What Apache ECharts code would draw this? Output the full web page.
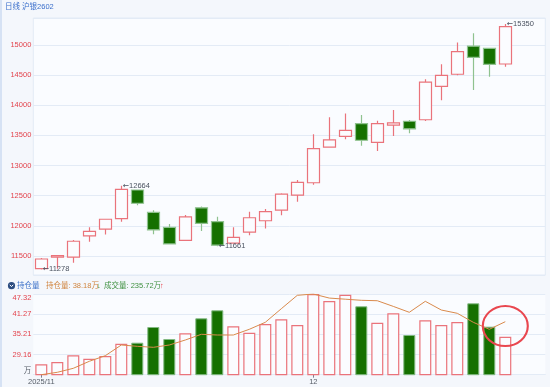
<!DOCTYPE html>
<html><head><meta charset="utf-8">
<script src="https://cdn.jsdelivr.net/npm/echarts@6/dist/echarts.min.js"></script>
<style>html,body{margin:0;padding:0;background:#f4f7fc}#c{width:550px;height:387px}</style>
</head><body><div id="c"></div>
<script>
// ---- data ----
const dates = ['2025-11-06','2025-11-07','2025-11-10','2025-11-11','2025-11-12','2025-11-13','2025-11-14',
  '2025-11-17','2025-11-18','2025-11-19','2025-11-20','2025-11-21','2025-11-24','2025-11-25','2025-11-26',
  '2025-11-27','2025-11-28','2025-12-01','2025-12-02','2025-12-03','2025-12-04','2025-12-05','2025-12-08',
  '2025-12-09','2025-12-10','2025-12-11','2025-12-12','2025-12-15','2025-12-16','2025-12-17'];
const opens  = [11290,11480,11480,11835,11945,12120,12595,12225,11975,11760,12300,12070,11715,11895,12085,
                12260,12510,12715,13305,13485,13695,13385,13670,13735,13760,14315,14515,14980,14945,14685];
const closes = [11450,11505,11745,11910,12110,12605,12375,11935,11700,12150,12040,11680,11810,12135,12235,
                12525,12720,13280,13425,13585,13420,13695,13710,13610,14385,14495,14890,14795,14680,15305];
const lows   = [11278,11290,11390,11735,11855,12070,12340,11860,11695,11755,11915,11661,11705,11845,11955,
                12175,12400,12680,13295,13435,13330,13240,13490,13535,13740,14085,14500,14255,14475,14640];
const highs  = [11465,11515,11765,11975,12115,12664,12600,12260,12030,12180,12320,12150,11975,12235,12280,
                12540,12760,13520,13800,13865,13840,13745,13920,13755,14430,14680,15040,15195,14955,15350];
const volumes = [26.23,26.92,28.93,27.91,28.72,32.41,32.71,37.42,33.82,35.53,40.03,42.43,37.63,35.71,38.32,
                 39.73,38.02,47.30,45.22,47.10,43.63,38.71,41.53,35.02,39.43,38.02,38.92,44.53,37.51,34.51];
const openInterest = [23.11,23.83,25.03,27.13,28.81,32.02,31.63,31.33,32.02,33.52,35.23,35.02,35.02,36.73,38.83,
                      42.90,46.93,47.32,46.10,45.76,45.43,45.30,43.60,41.83,45.13,42.52,41.53,38.83,36.73,39.01];
const volTickLabels = ['万','29.16','35.21','41.27','47.32'];
const xLabelMap = {'2025-11-06':'2025/11','2025-12-01':'12'};
const extremeMarks = [[0,'low'],[5,'high'],[11,'low'],[29,'high']];
const arrowLevel = 15000, arrowFrom = 23.4, arrowTo = 31.7;
const circleMark = [29, 37.7];
const emptySlots = ['',''];

// ---- chart ----
const xCats = dates.concat(emptySlots);
const candleData = dates.map((d,i)=>[opens[i],closes[i],lows[i],highs[i]]);
const volData = volumes.map((v,i)=>({value:v, itemStyle: closes[i]>=opens[i]
  ? {color:'#fbfcff',borderColor:'#ea737b',borderWidth:1.2}
  : {color:'#157000',borderColor:'#82b982',borderWidth:1}}));
const F = 'Liberation Sans, "Noto Sans CJK SC", sans-serif';
const showLbl = (idx, val) => xLabelMap[val] !== undefined;
const volMin = 23.11, volMax = 47.32;

const chart = echarts.init(document.getElementById('c'), null, {renderer:'canvas'});
chart.setOption({
  backgroundColor:'#f4f7fc',
  animation:false,
  textStyle:{fontFamily:F},
  grid:[
    {left:33.3,right:4.7,top:18,height:257,show:true,backgroundColor:'#fafcff',borderColor:'#e3ebf6',borderWidth:1},
    {left:33.3,right:4.7,top:294,height:80.7,show:true,backgroundColor:'#fafcff',borderColor:'#e3ebf6',borderWidth:0}
  ],
  xAxis:[
    {type:'category',gridIndex:0,data:xCats,boundaryGap:true,axisLine:{show:false},axisTick:{show:false},axisLabel:{show:false},splitLine:{show:false}},
    {type:'category',gridIndex:1,data:xCats,boundaryGap:true,
      axisLine:{show:true,lineStyle:{color:'#e3ebf6'}},
      axisTick:{show:true,interval:showLbl,alignWithLabel:true,length:3,lineStyle:{color:'#7a8090'}},
      axisLabel:{show:true,interval:showLbl,formatter:v=>xLabelMap[v]||'',color:'#555c66',fontSize:7.5,margin:3,fontFamily:F},
      splitLine:{show:false}},
    {type:'value',gridIndex:0,min:-0.5,max:xCats.length-0.5,show:false}
  ],
  yAxis:[
    {type:'value',gridIndex:0,min:11185,max:15448,splitNumber:8,scale:true,
      axisLine:{show:false},axisTick:{show:false},
      axisLabel:{color:'#e3434c',fontSize:7.5,margin:2,showMinLabel:false,showMaxLabel:false,fontFamily:F,formatter:v=>String(v)},
      splitLine:{show:true,lineStyle:{color:'#e3ebf6',width:1}}},
    {type:'value',gridIndex:1,min:volMin,max:volMax,interval:(volMax-volMin)/4,
      axisLine:{show:false},axisTick:{show:false},
      axisLabel:{fontSize:7.5,margin:2,fontFamily:F,
        formatter:v=>volTickLabels[Math.round((v-volMin)/((volMax-volMin)/4))]||'',
        color:(v)=> Math.round((v-volMin)/((volMax-volMin)/4))===0 ? '#555c66' : '#e3434c',
        verticalAlignMinLabel:'bottom',verticalAlignMaxLabel:'top'},
      splitLine:{show:true,lineStyle:{color:'#e3ebf6',width:1}}}
  ],
  series:[
    {type:'candlestick',xAxisIndex:0,yAxisIndex:0,data:candleData,barWidth:12,
      itemStyle:{color:'#fbfcff',color0:'#157000',borderColor:'#ea737b',borderColor0:'#8fc28f',borderWidth:1.2},
      markPoint:{symbol:'circle',symbolSize:1,itemStyle:{color:'rgba(0,0,0,0)'},silent:true,
        label:{show:true,position:'right',distance:1,color:'#4a5260',fontSize:7.5,fontFamily:F,
          formatter:p=>'{a|←}'+p.value,
          rich:{a:{fontFamily:'DejaVu Sans',fontSize:7.5,color:'#4a5260'}}},
        data:extremeMarks.map(([i,t])=>({coord:[i, t==='low'?lows[i]:highs[i]], value: t==='low'?lows[i]:highs[i]}))}
    },
    {type:'line',xAxisIndex:2,yAxisIndex:0,data:[[arrowFrom,arrowLevel],[arrowTo,arrowLevel]],symbol:'none',
      lineStyle:{opacity:0},silent:true,
      markLine:{silent:true,symbol:['none','arrow'],symbolSize:7,label:{show:false},
        lineStyle:{color:'#f0393e',width:1.5,type:'solid'},
        data:[[{coord:[arrowFrom,arrowLevel]},{coord:[arrowTo,arrowLevel]}]]}
    },
    {type:'bar',xAxisIndex:1,yAxisIndex:1,data:volData,barWidth:12,clip:true,
      markPoint:{symbol:'path://M0,10A10,10,0,1,1,20,10A10,10,0,1,1,0,10Z',symbolSize:[45,40],silent:true,
        itemStyle:{color:'rgba(0,0,0,0)',borderColor:'#e9474f',borderWidth:2},label:{show:false},
        data:[{coord:circleMark}]}
    },
    {type:'line',xAxisIndex:1,yAxisIndex:1,data:openInterest,symbol:'none',smooth:false,
      lineStyle:{color:'#d98a4c',width:1}}
  ],
  graphic:[
    {type:'rect',shape:{x:0,y:0,width:2,height:387},style:{fill:'#d6e2f4'}},
    {type:'text',left:5,top:3,style:{text:'日线 沪银2602',fill:'#3b6fcb',fontSize:7.5,fontFamily:F}},
    {type:'circle',shape:{cx:11.5,cy:285.7,r:3.6},style:{fill:'#2d4d80'}},
    {type:'polyline',shape:{points:[[9.8,284.8],[11.5,286.6],[13.2,284.8]]},style:{stroke:'#fff',lineWidth:1,fill:null}},
    {type:'text',x:17,y:285.7,style:{text:'持仓量',fill:'#3a70c8',fontSize:7.5,verticalAlign:'middle',fontFamily:F}},
    {type:'text',x:46,y:285.7,style:{text:'持仓量: 38.18万',fill:'#d0843e',fontSize:7.5,verticalAlign:'middle',fontFamily:F}},
    {type:'text',x:97,y:285.7,style:{text:'↓',fill:'#2f8f2f',fontSize:7.5,verticalAlign:'middle',fontFamily:F,fontWeight:'bold'}},
    {type:'text',x:104,y:285.7,style:{text:'成交量: 235.72万',fill:'#3f9140',fontSize:7.5,verticalAlign:'middle',fontFamily:F}},
    {type:'text',x:160,y:285.7,style:{text:'↑',fill:'#e8323a',fontSize:7.5,verticalAlign:'middle',fontFamily:F,fontWeight:'bold'}}
  ]
});
</script></body></html>
